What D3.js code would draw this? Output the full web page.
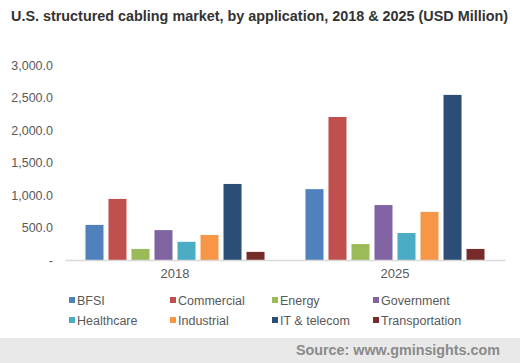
<!DOCTYPE html>
<html>
<head>
<meta charset="utf-8">
<script src="https://cdn.jsdelivr.net/npm/d3@7"></script>
<style>
body { margin: 0; background: #fff; }
text { font-family: Arial, "Liberation Sans", sans-serif; }
</style>
</head>
<body>
<svg id="chart" width="520" height="363"></svg>
<script>
// data
const years = ["2018", "2025"];
const segments = ["BFSI", "Commercial", "Energy", "Government", "Healthcare", "Industrial", "IT & telecom", "Transportation"];
const values2018 = [540, 940, 170, 460, 280, 385, 1170, 125];
const values2025 = [1090, 2200, 245, 845, 415, 740, 2540, 170];
const colors = ["#4f81bd", "#c0504d", "#9bbb59", "#8064a2", "#4bacc6", "#f79646", "#2c4d75", "#772c2a"];
const yTicks = [0, 500, 1000, 1500, 2000, 2500, 3000];

const svg = d3.select("#chart");
const byYear = { "2018": values2018, "2025": values2025 };

// title
svg.append("text")
    .attr("x", 11).attr("y", 21)
    .attr("font-size", 14).attr("font-weight", "bold")
    .attr("fill", "#333")
    .attr("textLength", 497)
    .attr("lengthAdjust", "spacingAndGlyphs")
    .text("U.S. structured cabling market, by application, 2018 & 2025 (USD Million)");

let x0 = d3.scaleBand().domain(years).range([65, 505]);
let x1 = d3.scaleBand().domain(segments).range([0, x0.bandwidth()])
    .paddingInner(5 / 23).paddingOuter(0.89);
let y = d3.scaleLinear().domain([0, 3000]).range([260, 65]);
let color = d3.scaleOrdinal().domain(segments).range(colors);

// y axis labels (no line)
let fmt = d3.format(",.1f");
let yAxis = svg.append("g")
    .attr("transform", "translate(53,0)")
    .call(d3.axisLeft(y).tickValues(yTicks).tickSize(0).tickPadding(0)
        .tickFormat(d => d === 0 ? "-" : fmt(d)));
yAxis.select(".domain").remove();
yAxis.selectAll("text")
    .attr("font-size", 12.5)
    .attr("fill", "#595959")
    .style("font-family", "Arial, 'Liberation Sans', sans-serif");

// bars
let groups = svg.append("g").selectAll("g")
    .data(years)
    .join("g")
    .attr("transform", d => `translate(${x0(d)},0)`);

groups.selectAll("rect")
    .data(d => segments.map((s, i) => ({ seg: s, val: byYear[d][i] })))
    .join("rect")
    .attr("x", d => x1(d.seg))
    .attr("width", x1.bandwidth())
    .attr("y", d => y(d.val))
    .attr("height", d => y(0) - y(d.val))
    .attr("fill", d => color(d.seg));

// x axis
let xAxis = svg.append("g")
    .attr("transform", "translate(0,260)")
    .call(d3.axisBottom(x0).tickSize(0).tickPadding(9));
xAxis.select(".domain").attr("stroke", "#d9d9d9").attr("stroke-width", 1.5);
xAxis.selectAll("text")
    .attr("font-size", 13)
    .attr("fill", "#595959")
    .style("font-family", "Arial, 'Liberation Sans', sans-serif");

// legend
let legendX = [69, 170, 272, 373];
let legend = svg.append("g").selectAll("g")
    .data(segments)
    .join("g")
    .attr("transform", (d, i) => `translate(${legendX[i % 4]},${i < 4 ? 300 : 320})`);
legend.append("rect")
    .attr("x", 0).attr("y", -3)
    .attr("width", 6).attr("height", 6)
    .attr("fill", d => color(d));
legend.append("text")
    .attr("x", 8).attr("y", 4.5)
    .attr("font-size", 12.5)
    .attr("fill", "#595959")
    .text(d => d);

// source footer
svg.append("rect")
    .attr("x", 0).attr("y", 338)
    .attr("width", 520).attr("height", 25)
    .attr("fill", "#e9e9e9");
svg.append("text")
    .attr("x", 500).attr("y", 355)
    .attr("text-anchor", "end")
    .attr("font-size", 14).attr("font-weight", "bold")
    .attr("fill", "#8a8a8a")
    .attr("textLength", 204)
    .attr("lengthAdjust", "spacingAndGlyphs")
    .text("Source: www.gminsights.com");
</script>
</body>
</html>
